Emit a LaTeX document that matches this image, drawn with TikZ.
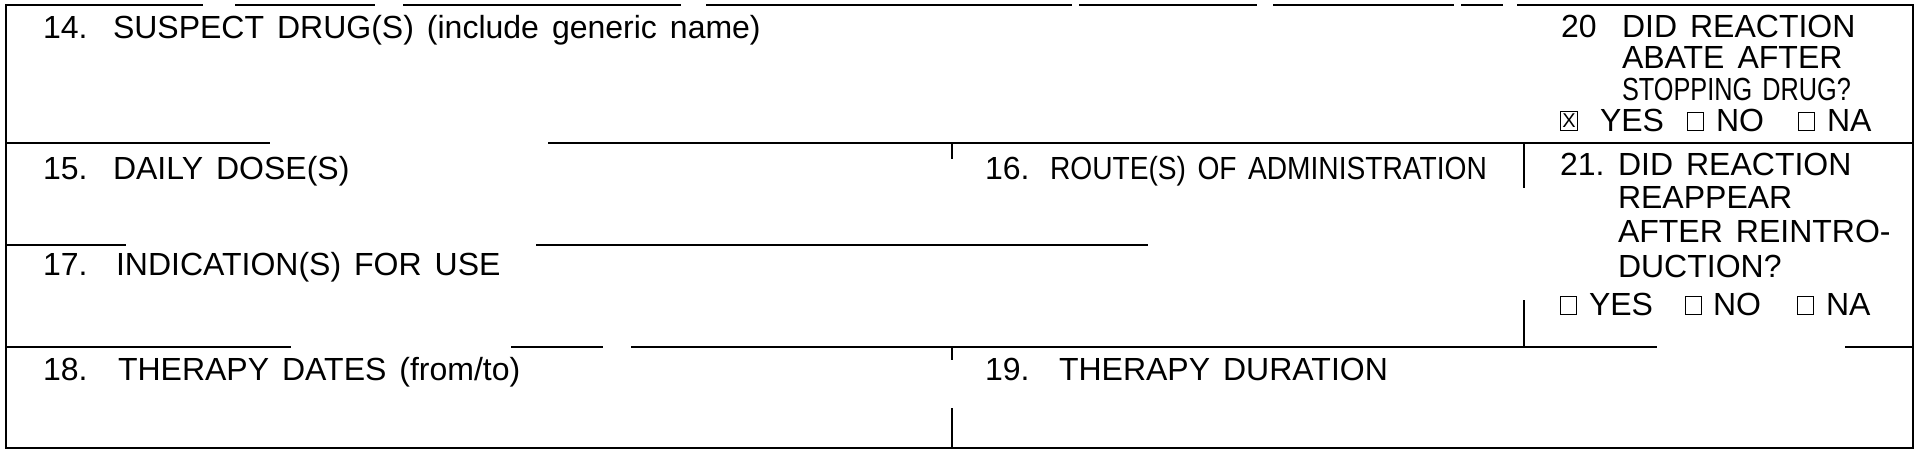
\documentclass[tikz,border=0pt]{standalone}
\usepackage{fontspec}
\setmainfont{Liberation Sans}
\usepackage{graphicx}
\newcommand\lblfont{\fontsize{32}{37}\selectfont\spaceskip=13pt\relax}
\tikzset{
  lbl/.style={anchor=base west, inner sep=0pt, outer sep=0pt, font=\lblfont},
  frameline/.style={line width=2.8pt, line cap=rect},
  ruleline/.style={line width=2.3pt},
  divline/.style={line width=1.3pt},
  cbox/.style={draw, line width=1.1pt, minimum width=16pt, minimum height=18pt, inner sep=0pt, anchor=south west},
  xbox/.style={draw, line width=1.1pt, minimum width=17pt, minimum height=19pt, inner sep=0pt, anchor=south west, font=\fontsize{20}{20}\selectfont}
}
\begin{document}
\begin{tikzpicture}[x=1pt,y=-1pt]
\useasboundingbox (0,0) rectangle (1921,459);
% frame
\draw[frameline] (6,5) -- (6,448) -- (1913,448) -- (1913,5);
\foreach \a/\b in {6/202,236/374,404/680,707/1071,1080/1256,1274/1453,1462/1502,1518/1913}
  \draw[frameline] (\a,5) -- (\b,5);
% horizontal rules
\draw[ruleline] (6,143) -- (270,143);
\draw[ruleline] (548,143) -- (1913,143);
\draw[ruleline] (6,245) -- (126,245);
\draw[ruleline] (536,245) -- (1148,245);
\draw[ruleline] (6,347) -- (291,347);
\draw[ruleline] (511,347) -- (603,347);
\draw[ruleline] (631,347) -- (1657,347);
\draw[ruleline] (1845,347) -- (1913,347);
% vertical dividers
\draw[divline] (952,143) -- (952,159);
\draw[divline] (952,347) -- (952,360);
\draw[divline] (952,408) -- (952,448);
\draw[divline] (1524,143) -- (1524,188);
\draw[divline] (1524,300) -- (1524,347);
% labels
\node[lbl] (n14) at (43,38) {14.};
\node[lbl] (t14) at (113,38) {SUSPECT DRUG(S) (include generic name)};
\node[lbl] (n15) at (43,179) {15.};
\node[lbl] (t15) at (113,179) {DAILY DOSE(S)};
\node[lbl] (n16) at (985,179) {16.};
\node[lbl] (t16) at (1050,179) {\scalebox{0.88}[1]{ROUTE(S) OF ADMINISTRATION}};
\node[lbl] (n17) at (43,275) {17.};
\node[lbl] (t17) at (116,275) {INDICATION(S) FOR USE};
\node[lbl] (n18) at (43,380) {18.};
\node[lbl] (t18) at (118,380) {THERAPY DATES (from/to)};
\node[lbl] (n19) at (985,380) {19.};
\node[lbl] (t19) at (1059,380) {THERAPY DURATION};
% item 20
\node[lbl] (n20) at (1561,37) {20};
\node[lbl] (t20a) at (1622,37) {DID REACTION};
\node[lbl] (t20b) at (1622,68) {ABATE AFTER};
\node[lbl] (t20c) at (1622,100) {\scalebox{0.79}[1]{STOPPING DRUG?}};
\node[xbox] (b20y) at (1560,131) {X};
\node[lbl] (y20) at (1600,131) {YES};
\node[cbox] (b20n) at (1687,131) {};
\node[lbl] (no20) at (1716,131) {NO};
\node[cbox] (b20a) at (1798,131) {};
\node[lbl] (na20) at (1827,131) {NA};
% item 21
\node[lbl] (n21) at (1560,175) {21.};
\node[lbl] (t21a) at (1618,175) {DID REACTION};
\node[lbl] (t21b) at (1618,208) {REAPPEAR};
\node[lbl] (t21c) at (1618,242) {AFTER REINTRO-};
\node[lbl] (t21d) at (1618,277) {DUCTION?};
\node[cbox] (b21y) at (1560,315) {};
\node[lbl] (y21) at (1589,315) {YES};
\node[cbox] (b21n) at (1685,315) {};
\node[lbl] (no21) at (1713,315) {NO};
\node[cbox] (b21a) at (1797,315) {};
\node[lbl] (na21) at (1826,315) {NA};
\end{tikzpicture}
\end{document}
